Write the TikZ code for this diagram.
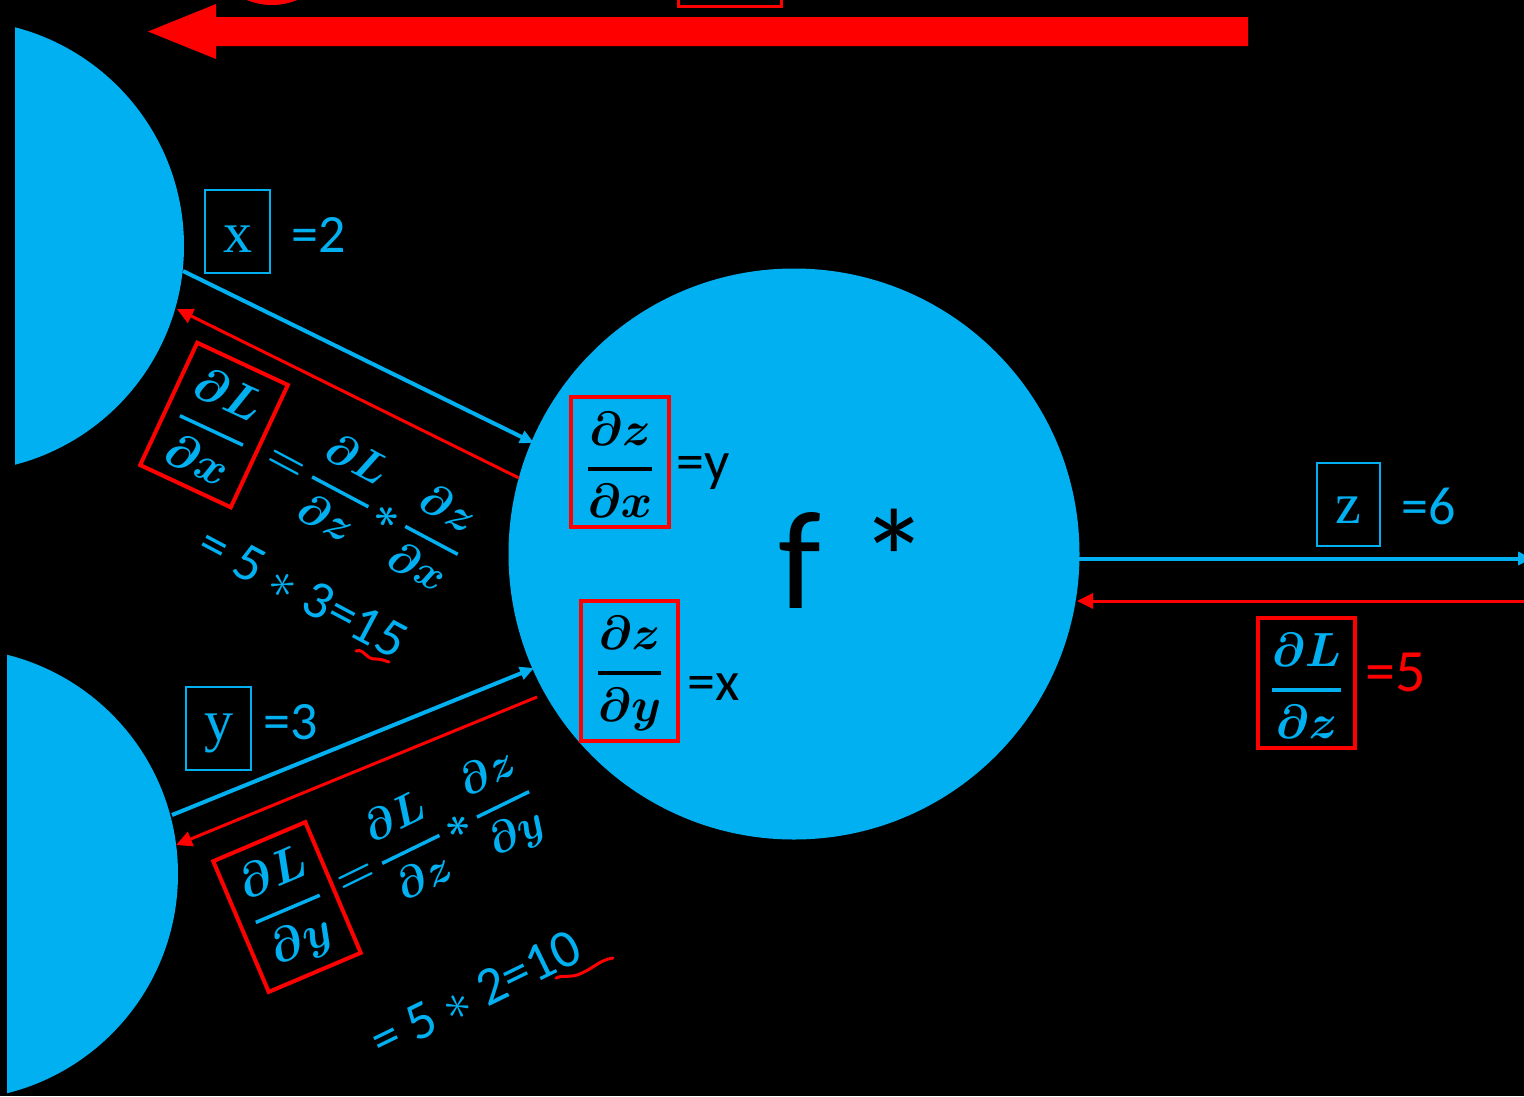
\RequirePackage{fix-cm}
\documentclass[tikz,border=0pt]{standalone}
\usepackage[no-math]{fontspec}
\setmainfont{Carlito}
\newfontfamily\serifx{Liberation Serif}
\usetikzlibrary{arrows.meta}
\definecolor{pblue}{HTML}{00B0F0}
\definecolor{pred}{HTML}{FF0000}
\newcommand{\dfr}[2]{{\displaystyle{{#1}\above 3.5pt{#2}}}}
\newcommand{\tightmath}{\thickmuskip=3mu \medmuskip=2.5mu }
\tikzset{
  bl/.style={draw=pblue, line width=4pt},
  rd/.style={draw=pred, line width=3pt},
  btip/.style={-{Triangle[length=14pt,width=13pt]}},
  rtip/.style={-{Triangle[length=16pt,width=15pt]}},
  bluebox/.style={draw=pblue, line width=2pt, inner sep=0pt},
  redbox/.style={draw=pred, line width=4pt, inner sep=0pt},
  mathlbl/.style={inner sep=0pt, font=\fontsize{48}{58}\selectfont\boldmath},
  eqlbl/.style={inner sep=0pt, text=pblue, font=\fontsize{44}{54}\selectfont\boldmath},
  numlbl/.style={inner sep=0pt, font=\fontsize{54}{60}\selectfont},
  letter/.style={inner sep=0pt, text=pblue, font=\serifx\fontsize{58}{62}\selectfont},
}
\begin{document}
\begin{tikzpicture}[x=1pt,y=-1pt]
\fill[black] (0,0) rectangle (1524,1096);
\useasboundingbox (0,0) rectangle (1524,1096);

% top fragments
\fill[pred] (272,-60) circle[radius=65];
\draw[pred, line width=3pt] (678,-20) rectangle (781,6);
\fill[pred] (1248,17) -- (216,17) -- (216,4) -- (148,31.5) -- (216,59) -- (216,46) -- (1248,46) -- cycle;

% half circles
\begin{scope}
  \clip (15,0) rectangle (400,560);
  \fill[pblue] (-42,246) circle[radius=226];
\end{scope}
\begin{scope}
  \clip (7,560) rectangle (400,1096);
  \fill[pblue] (-48,874) circle[radius=226];
\end{scope}

% big circle
\node[circle, fill=pblue, minimum size=571pt, inner sep=0pt] (C) at (794,554) {};
\node[inner sep=0pt, anchor=base west, font=\fontsize{140}{160}\selectfont] (F) at (778,608) {f\hspace{0.28em}*};

% connection points
\coordinate (xo) at (183,271);
\coordinate (ci1) at (534,443);
\coordinate (co1) at (519,478);
\coordinate (xi) at (177,309);
\coordinate (yo) at (172,815);
\coordinate (ci2) at (534,668);
\coordinate (co2) at (537,697);
\coordinate (yi) at (176,845);
\coordinate (co3) at (1078,558.5);
\coordinate (zo) at (1532,558.5);
\coordinate (zi) at (1530,601);
\coordinate (ci3) at (1077,601);

\draw[bl, btip] (xo) -- (ci1);
\draw[rd, rtip] (co1) -- (xi);
\draw[bl, btip] (yo) -- (ci2);
\draw[rd, rtip] (co2) -- (yi);
\draw[bl, btip] (co3) -- (zo);
\draw[rd, rtip] (zi) -- (ci3);

% x, y, z boxes
\node[bluebox, minimum width=65pt, minimum height=83pt] (xb) at (237.5,231.5) {};
\node[letter, anchor=base] (xl) at (237.5,252) {x};
\node[numlbl, text=pblue, anchor=base west] (xv) at (291,252) {=2};

\node[bluebox, minimum width=65pt, minimum height=83pt] (yb) at (218.5,728.5) {};
\node[letter, anchor=base] (yl) at (218.5,740) {y};
\node[numlbl, text=pblue, anchor=base west] (yv) at (263,739) {=3};

\node[bluebox, minimum width=63pt, minimum height=83pt] (zb) at (1348.5,504.5) {};
\node[letter, anchor=base] (zl) at (1348.5,523) {z};
\node[numlbl, text=pblue, anchor=base west] (zv) at (1401,524) {=6};

% dL/dz
\node[redbox, minimum width=97pt, minimum height=130pt] (lzb) at (1306.5,683) {};
\node[mathlbl, text=pblue, anchor=base] (lzf) at (1306.5,702) {$\dfr{\partial L}{\partial z}$};
\node[numlbl, text=pred, anchor=base west, font=\fontsize{60}{64}\selectfont] (lzv) at (1365,691) {=5};

% dz/dx, dz/dy inside circle
\node[redbox, minimum width=98pt, minimum height=130pt] (zxb) at (620,462) {};
\node[mathlbl, anchor=base] (zxf) at (620,481) {$\dfr{\partial z}{\partial x}$};
\node[numlbl, anchor=base west, font=\fontsize{56}{60}\selectfont] (zxv) at (676,480) {=y};

\node[redbox, minimum width=97pt, minimum height=140pt] (zyb) at (629.5,671) {};
\node[mathlbl, anchor=base] (zyf) at (629.5,685) {$\dfr{\partial z}{\partial y}$};
\node[numlbl, anchor=base west, font=\fontsize{56}{60}\selectfont] (zyv) at (687,700) {=x};

% rotated formula for dL/dx
\begin{scope}[shift={(214,425)}, rotate=-25]
  \node[redbox, minimum width=100pt, minimum height=135pt, rotate=-25] (lxb) at (0,0) {};
  \node[mathlbl, text=pblue, anchor=base, rotate=-25] (lxf) at (0,18) {$\dfr{\partial L}{\partial x}$};
  \node[eqlbl, anchor=base west, rotate=-28] (lxe) at (62,14) {$\tightmath=\dfr{\partial L}{\partial z}*\dfr{\partial z}{\partial x}$};
  \node[numlbl, text=pblue, anchor=base west, rotate=-28] (lxn) at (37,125) {= 5 $\ast$ 3=15};
\end{scope}

% rotated formula for dL/dy
\begin{scope}[shift={(287,907)}, rotate=23]
  \node[redbox, minimum width=100pt, minimum height=142pt, rotate=23] (lyb) at (0,0) {};
  \node[mathlbl, text=pblue, anchor=base, rotate=23] (lyf) at (0,14) {$\dfr{\partial L}{\partial y}$};
  \node[eqlbl, anchor=base west, rotate=26] (lye) at (57,10.5) {$\tightmath=\dfr{\partial L}{\partial z}*\dfr{\partial z}{\partial y}$};
  \node[numlbl, text=pblue, anchor=base west, rotate=26] (lyn) at (27,177) {= 5 $\ast$ 2=10};
\end{scope}

% red squiggles
\draw[pred, line width=3pt, line cap=round] (356,651) .. controls (364,648) and (366,660) .. (376,659) .. controls (382,659) and (385,661) .. (389,662);
\draw[pred, line width=3pt, line cap=round] (556,978) .. controls (565,974) and (570,979) .. (582,973) .. controls (595,967) and (600,960) .. (613,958);
\end{tikzpicture}
\end{document}
